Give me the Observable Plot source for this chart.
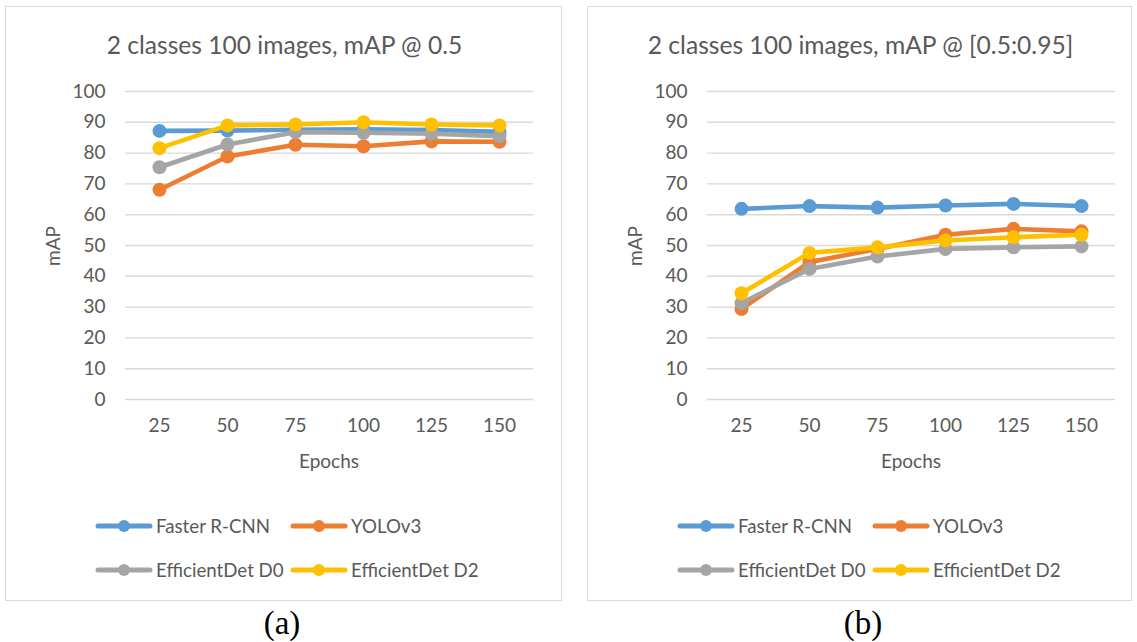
<!DOCTYPE html>
<html><head><meta charset="utf-8">
<script src="https://cdn.jsdelivr.net/npm/d3@7"></script>
<script src="https://cdn.jsdelivr.net/npm/@observablehq/plot@0.6"></script>
<style>
body{margin:0;background:#fff;font-family:Lato,"Open Sans",sans-serif;color:#595959}
#root{position:relative;width:1137px;height:642px;overflow:hidden;background:#fff}
.box{position:absolute;top:6px;height:595px;border:1.5px solid #d9d9d9;box-sizing:border-box}
.abs{position:absolute;white-space:nowrap}
.title{font-size:24.6px;line-height:30px;text-align:center;transform:translateX(-50%)}
.xlab{font-size:19px;line-height:24px;transform:translate(-50%,-50%)}
.ylab{font-size:19px;line-height:24px;transform:translate(-50%,-50%) rotate(-90deg)}
.leg{font-size:18.7px;line-height:24px;display:flex;align-items:center;transform:translateY(-50%)}
.leg svg{margin-right:3px}
.cap{font-family:"Liberation Serif","Times New Roman",serif;font-size:33px;line-height:36px;color:#000;transform:translate(-50%,-50%)}
</style>
</head><body><div id="root"></div>
<script>
// ---- data ----
const epochs = [25, 50, 75, 100, 125, 150];
const models = ["Faster R-CNN", "YOLOv3", "EfficientDet D0", "EfficientDet D2"];
const colors = ["#5B9BD5", "#ED7D31", "#A5A5A5", "#FFC000"];
const yTicks = [0, 10, 20, 30, 40, 50, 60, 70, 80, 90, 100];

// panel (a): mAP @ 0.5
const fasterRcnnA = [87.2, 87.3, 87.6, 87.7, 87.5, 86.9];
const yolov3A     = [68.1, 78.9, 82.7, 82.2, 83.8, 83.7];
const effD0A      = [75.4, 82.8, 86.8, 86.6, 86.3, 85.5];
const effD2A      = [81.6, 89.0, 89.3, 90.0, 89.3, 89.0];

// panel (b): mAP @ [0.5:0.95]
const fasterRcnnB = [61.9, 62.8, 62.3, 63.0, 63.5, 62.8];
const yolov3B     = [29.4, 44.6, 48.9, 53.5, 55.4, 54.6];
const effD0B      = [31.3, 42.4, 46.4, 48.9, 49.4, 49.7];
const effD2B      = [34.5, 47.6, 49.4, 51.6, 52.7, 53.5];

const titles = ["2 classes 100 images, mAP @ 0.5", "2 classes 100 images, mAP @ [0.5:0.95]"];
const captions = ["(a)", "(b)"];
const xLabel = "Epochs";
const yLabel = "mAP";

function toRows(series) {
  return models.flatMap((m, i) => epochs.map((e, j) => ({model: m, epoch: e, map: series[i][j]})));
}

const panels = [
  {ox: 5, w: 557, rows: toRows([fasterRcnnA, yolov3A, effD0A, effD2A])},
  {ox: 587, w: 545, rows: toRows([fasterRcnnB, yolov3B, effD0B, effD2B])}
];

const root = document.getElementById("root");
function add(cls, text, left, top, css) {
  const d = document.createElement("div");
  d.className = "abs " + cls;
  d.textContent = text;
  d.style.left = left + "px";
  d.style.top = top + "px";
  if (css) Object.assign(d.style, css);
  root.appendChild(d);
  return d;
}

panels.forEach((p, k) => {
  const box = document.createElement("div");
  box.className = "box";
  box.style.left = p.ox + "px";
  box.style.width = p.w + "px";
  root.appendChild(box);

  const chart = Plot.plot({
    width: p.w, height: 480,
    marginLeft: 120, marginRight: p.w - 528, marginTop: 85, marginBottom: 87,
    style: {fontFamily: "Lato, sans-serif", fontSize: "19px", color: "#595959", background: "transparent", overflow: "visible"},
    x: {type: "point", domain: epochs, padding: 0.5},
    y: {domain: [0, 100]},
    color: {domain: models, range: colors},
    marks: [
      Plot.gridY(yTicks, {stroke: "#d9d9d9", strokeOpacity: 1, strokeWidth: 1.4}),
      Plot.axisY(yTicks, {tickSize: 0, tickPadding: 20, fontSize: 19, label: null}),
      Plot.axisX(epochs, {tickSize: 0, tickPadding: 19, fontSize: 19, label: null}),
      ...models.flatMap(m => {
        const d = p.rows.filter(r => r.model === m);
        return [
          Plot.line(d, {x: "epoch", y: "map", stroke: "model", strokeWidth: 4.6, strokeLinejoin: "round", strokeLinecap: "round"}),
          Plot.dot(d, {x: "epoch", y: "map", fill: "model", r: 7})
        ];
      })
    ]
  });
  chart.style.position = "absolute";
  chart.style.left = p.ox + "px";
  chart.style.top = "6px";
  root.appendChild(chart);

  add("title", titles[k], p.ox + p.w / 2 + 1, 30);
  add("xlab", xLabel, p.ox + 324, 461);
  add("ylab", yLabel, p.ox + 48, 246);
  add("cap", captions[k], p.ox + (k === 0 ? 277 : 276), 623);

  // legend
  const pos = [[90, 526], [285, 526], [90, 570], [285, 570]];
  models.forEach((m, i) => {
    const it = add("leg", "", p.ox + pos[i][0], pos[i][1]);
    it.innerHTML = `<svg width="58" height="14"><line x1="3" y1="7" x2="55" y2="7" stroke="${colors[i]}" stroke-width="5" stroke-linecap="round"/><circle cx="29" cy="7" r="6" fill="${colors[i]}"/></svg><span>${m}</span>`;
  });
});
</script></body></html>
